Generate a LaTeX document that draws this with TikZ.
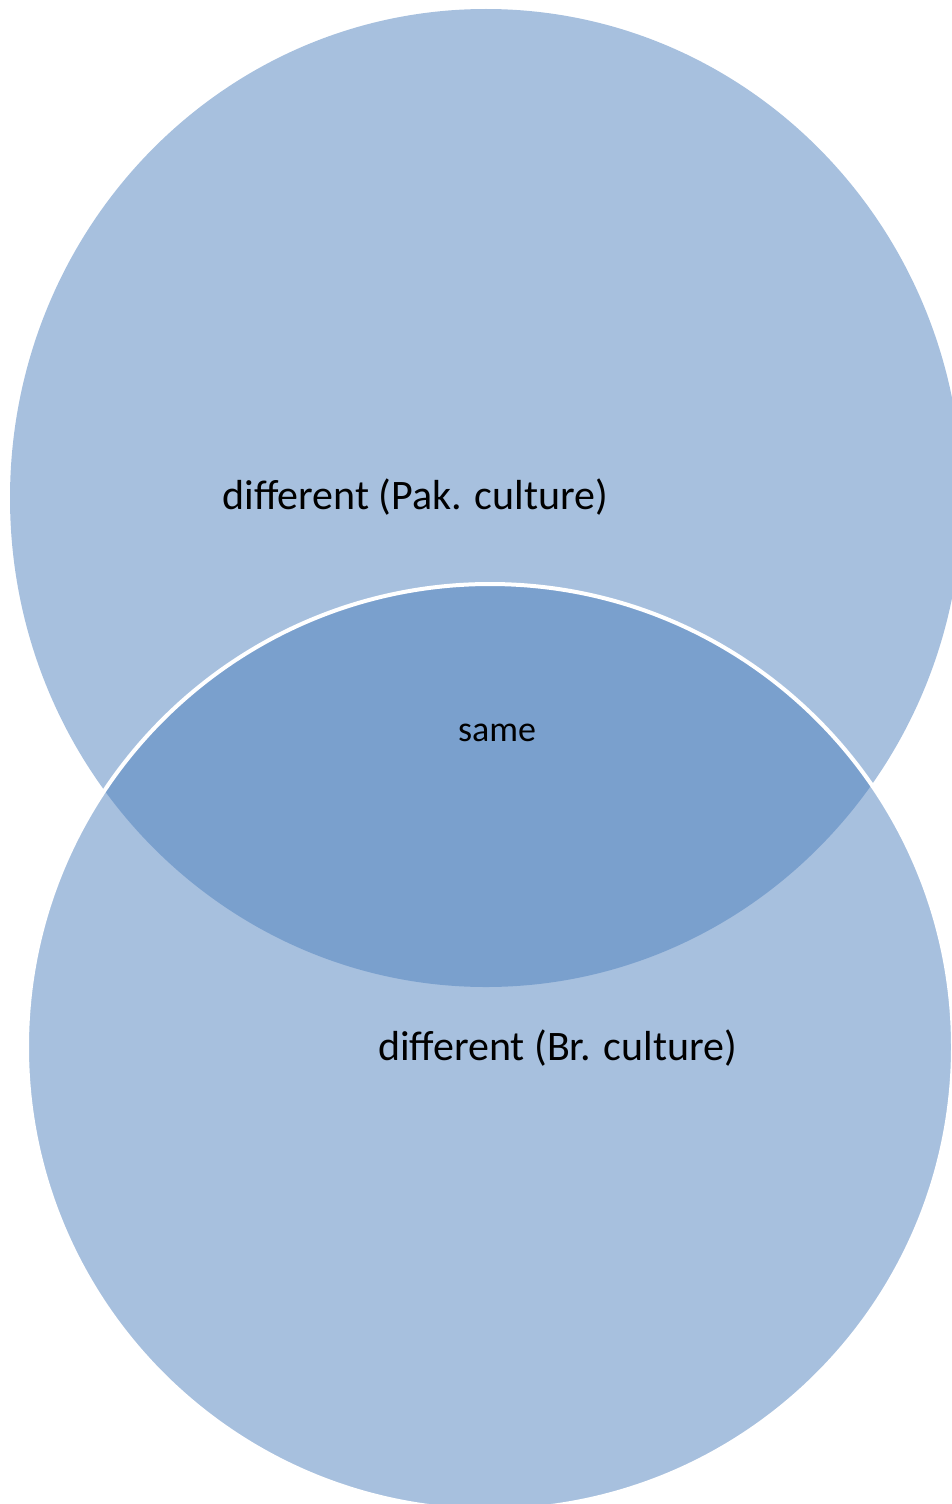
\documentclass[tikz,border=0pt]{standalone}
\usepackage{fontspec}
\setmainfont{Carlito}
\usepackage{tikz}
\usetikzlibrary{shapes.geometric, positioning}
\definecolor{setblue}{RGB}{79,129,189}
\tikzstyle{setcircle} = [ellipse, inner sep=0pt, fill=setblue, fill opacity=0.5]
\tikzstyle{setlabel} = [text=black, inner sep=0pt, font=\fontsize{42}{50}\selectfont]

\begin{document}
\begin{tikzpicture}[x=1pt, y=-1pt]
\useasboundingbox (0,0) rectangle (952,1504);

% the two overlapping sets
\node[setcircle,
minimum width=952pt,
minimum height=978pt
] (pakset) at (486,498) {};
\node[setcircle,
draw=white,
draw opacity=1,
line width=4pt,
minimum width=926pt,
minimum height=926pt
] (brset) at (490,1047) {};

% labels
\node[setlabel] (paklabel) at (415.5,497) {different (Pak. culture)};
\node[setlabel, font=\fontsize{36}{42}\selectfont] (samelabel) at (497,733) {same};
\node[setlabel] (brlabel) at (557.5,1048) {different (Br. culture)};
\end{tikzpicture}
\end{document}
